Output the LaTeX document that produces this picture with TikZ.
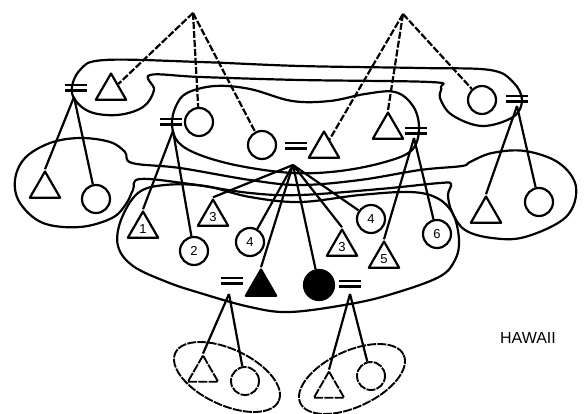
\documentclass[tikz,border=0pt]{standalone}
\usepackage{fontspec}
\setmainfont{Liberation Sans}
\usetikzlibrary{shapes.geometric}
\tikzstyle{kin}=[line width=2.2pt, line join=round]
\tikzstyle{male}=[regular polygon, regular polygon sides=3, draw, line width=2.2pt, minimum size=35pt, inner sep=0pt, font=\fontsize{13}{13}\selectfont]
\tikzstyle{female}=[circle, draw, line width=2.2pt, minimum size=28pt, inner sep=0pt, font=\fontsize{13}{13}\selectfont]
\tikzstyle{rough}=[dash pattern=on 9pt off 1.2pt, line width=1.9pt]
\tikzstyle{desc}=[dash pattern=on 7pt off 2pt, line width=2.2pt]
\tikzstyle{eqn}=[rectangle, minimum width=22pt, minimum height=8pt, inner sep=0pt,
  path picture={\draw[line width=2.2pt]
    ([yshift=2.6pt]path picture bounding box.west) -- ([yshift=2.6pt]path picture bounding box.east)
    ([yshift=-2.6pt]path picture bounding box.west) -- ([yshift=-2.6pt]path picture bounding box.east);}]

\begin{document}
\begin{tikzpicture}[x=1pt, y=-1pt, kin]
\useasboundingbox (0,0) rectangle (584,414);
% apexes
\coordinate (A1) at (193,13);
\coordinate (A2) at (403,14);
% top couple
\node[male] (TL) at (111,91) {};
\node[female] (CR) at (482,100) {};
\node[eqn] (E1) at (76,88) {};
\node[eqn] (E5) at (517,99) {};
\coordinate (E1o) at (74,97);
\coordinate (E5o) at (517,106);
% centre generation
\node[female] (Cc1) at (199,122) {};
\node[female] (Cc2) at (262,145) {};
\node[male] (Ct) at (324,149) {};
\node[male] (Rc) at (388,130) {};
\node[eqn] (E2) at (171,122) {};
\node[eqn] (E3) at (296,146) {};
\node[eqn] (E4) at (416,131) {};
\coordinate (E2o) at (173,131);
\coordinate (E3o) at (293,165);
\coordinate (E4o) at (414,138);
% side couples
\node[male] (Lb) at (45,189) {};
\node[female] (Lc) at (96,199) {};
\node[male] (Rb) at (486,214) {};
\node[female] (Rbc) at (539,202) {};
% siblings and cousins
\node[male] (T1) at (143,229) {1};
\node[female] (C2) at (194,251) {2};
\node[male] (T3L) at (213,217) {3};
\node[female] (C4L) at (250,242) {4};
\node[male, fill=black] (Tf) at (261,287) {};
\node[female, fill=black, minimum size=30pt] (Cf) at (319,285) {};
\node[male] (T3R) at (342,247) {3};
\node[female] (C4R) at (371,219) {4};
\node[male] (T5) at (384,259) {5};
\node[female] (C6) at (437,234) {6};
\node[eqn] (E6) at (232,281) {};
\node[eqn] (E7) at (350,284) {};
\coordinate (E6o) at (229,294);
\coordinate (E7o) at (350,294);
% spouses below
\node[male, rough] (LLt) at (203,373) {};
\node[female, rough] (LLc) at (245,381) {};
\node[male, rough] (LRt) at (329,389) {};
\node[female, rough] (LRc) at (371,376) {};
\node[font=\fontsize{16}{16}\selectfont] (hw) at (528,338) {HAWAII};

% descent lines
\draw[desc] (A1) -- (TL);
\draw[desc] (A1) -- (Cc1);
\draw[desc] (A1) -- (Cc2);
\draw[desc] (A2) -- (Ct);
\draw[desc] (A2) -- (Rc.corner 1);
\draw[desc] (A2) -- (CR);
\draw (E1o) -- (Lb.corner 1); \draw (E1o) -- (Lc);
\draw (E5o) -- (Rb.corner 1); \draw (E5o) -- (Rbc);
\draw (E2o) -- (T1.corner 1); \draw (E2o) -- (C2);
\draw (E4o) -- (T5.corner 1); \draw (E4o) -- (C6);
\draw (E3o) -- (T3L.corner 1); \draw (E3o) -- (C4L);
\draw (E3o) -- (Tf.corner 1); \draw (E3o) -- (Cf);
\draw (E3o) -- (T3R.corner 1); \draw (E3o) -- (C4R);
\draw (E6o) -- (LLt.corner 1); \draw (E6o) -- (LLc);
\draw (E7o) -- (LRt.corner 1); \draw (E7o) -- (LRc);

% contours
\draw plot[smooth cycle, tension=0.6] coordinates {(105,60) (200,62) (300,66) (420,68) (490,70) (513,82) (522,100) (513,117) (482,126) (452,115) (440,98) (441,87) (430,82) (300,80) (200,77) (150,75) (154,90) (143,107) (117,115) (88,111) (72,93) (80,70)};
\draw plot[smooth cycle, tension=0.6] coordinates {(187,93) (215,86) (250,89) (292,101) (330,101) (365,94) (395,92) (413,106) (419,128) (412,150) (385,162) (340,171) (293,173) (240,166) (200,155) (178,142) (172,124) (176,106)};
\draw plot[smooth cycle, tension=0.6] coordinates {(132,163) (180,168) (250,180) (300,185) (360,180) (420,170) (462,166) (470,162) (492,153) (525,151) (559,163) (576,187) (566,217) (525,237) (492,238) (465,230) (452,212) (448,195) (451,184) (440,183) (380,189) (300,195) (250,193) (190,184) (140,179) (133,190) (126,204) (112,218) (80,227) (43,223) (20,203) (15,180) (25,158) (50,143) (80,138) (110,142) (125,152)};
\draw plot[smooth cycle, tension=0.6] coordinates {(138,193) (165,185) (205,186) (250,197) (300,202) (360,195) (410,192) (437,198) (453,214) (459,240) (455,260) (439,277) (392,294) (350,304) (290,312) (250,307) (200,293) (167,282) (133,266) (118,246) (121,220)};
\draw[rough, rotate around={-25:(227,377)}] (227,377) ellipse [x radius=57, y radius=28];
\draw[rough, rotate around={25:(352,379)}] (352,379) ellipse [x radius=57, y radius=28];
\end{tikzpicture}
\end{document}
